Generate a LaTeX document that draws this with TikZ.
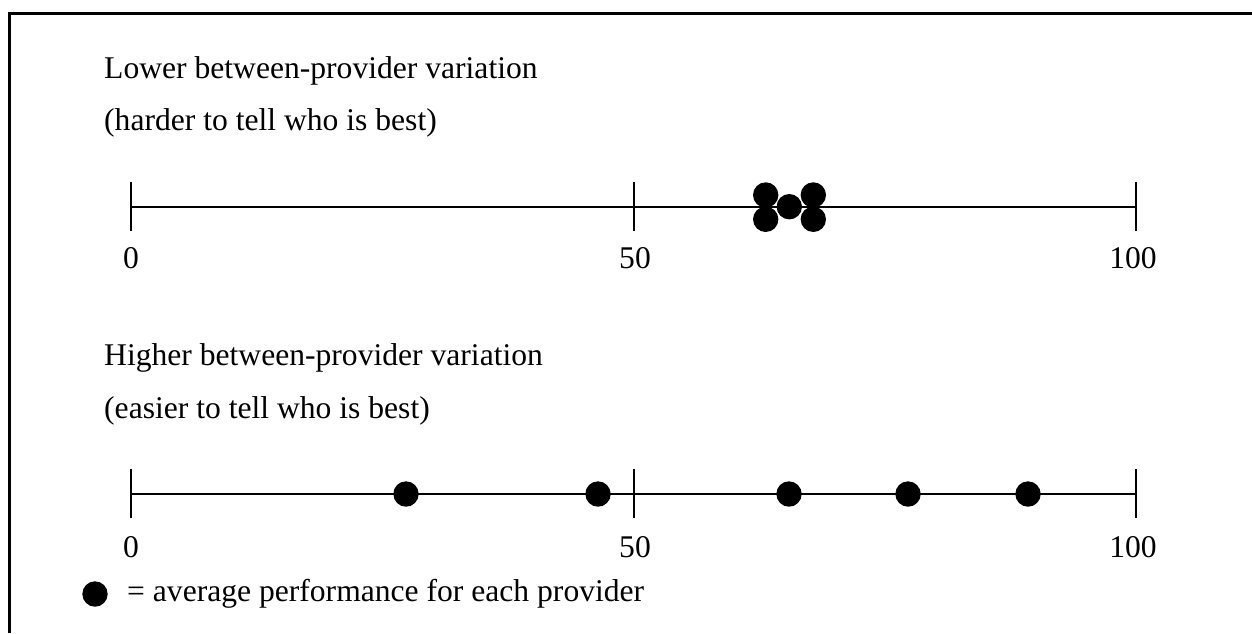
\documentclass[tikz,border=0pt]{standalone}
\usepackage{fontspec}
\setmainfont{Liberation Serif}
\begin{document}
\begin{tikzpicture}[x=1pt,y=-1pt,
  txt/.style={inner sep=0pt,font=\fontsize{31.6}{38}\selectfont},
  dot/.style={circle,fill=black,inner sep=0pt,minimum size=25.4pt},
  axisline/.style={line width=2pt},
  frameline/.style={line width=2.4pt}]
\useasboundingbox (0,0) rectangle (1252,633);

% frame (open towards the right and bottom)
\coordinate (fTR) at (1252,13.5);
\coordinate (fTL) at (9.5,13.5);
\coordinate (fBL) at (9.5,633);
\draw[frameline] (fTR) -- (fTL) -- (fBL);

% ---------- upper scale ----------
\node[txt,anchor=base west] (t1a) at (104,78) {Lower between-provider variation};
\node[txt,anchor=base west] (t1b) at (104,130) {(harder to tell who is best)};

\coordinate (u0) at (131,207);
\coordinate (u50) at (634,207);
\coordinate (u100) at (1136,207);
\draw[axisline] (u0) -- (u100);
\foreach \p in {u0,u50,u100}
  \draw[axisline] ([yshift=-24pt]\p) -- ([yshift=25pt]\p);
\node[txt,anchor=base] (lu0) at (131,268) {0};
\node[txt,anchor=base] (lu50) at (635,268) {50};
\node[txt,anchor=base] (lu100) at (1133,268) {100};

\node[dot] (c1) at (765.7,195) {};
\node[dot] (c2) at (765.7,219.3) {};
\node[dot] (c3) at (789.3,206.7) {};
\node[dot] (c4) at (813.3,195) {};
\node[dot] (c5) at (813.3,219.3) {};

% ---------- lower scale ----------
\node[txt,anchor=base west] (t2a) at (104,365) {Higher between-provider variation};
\node[txt,anchor=base west] (t2b) at (104,418) {(easier to tell who is best)};

\coordinate (l0) at (131,494);
\coordinate (l50) at (634,494);
\coordinate (l100) at (1136,494);
\draw[axisline] (l0) -- (l100);
\foreach \p in {l0,l50,l100}
  \draw[axisline] ([yshift=-24pt]\p) -- ([yshift=25pt]\p);
\node[txt,anchor=base] (ll0) at (131,557) {0};
\node[txt,anchor=base] (ll50) at (635,557) {50};
\node[txt,anchor=base] (ll100) at (1133,557) {100};

\node[dot] (d1) at (406,494) {};
\node[dot] (d2) at (598,494) {};
\node[dot] (d3) at (789,494) {};
\node[dot] (d4) at (908,494) {};
\node[dot] (d5) at (1028,494) {};

% ---------- legend ----------
\node[dot] (key) at (95,594) {};
\node[txt,anchor=base west] (keytxt) at (127,601) {= average performance for each provider};
\end{tikzpicture}
\end{document}
